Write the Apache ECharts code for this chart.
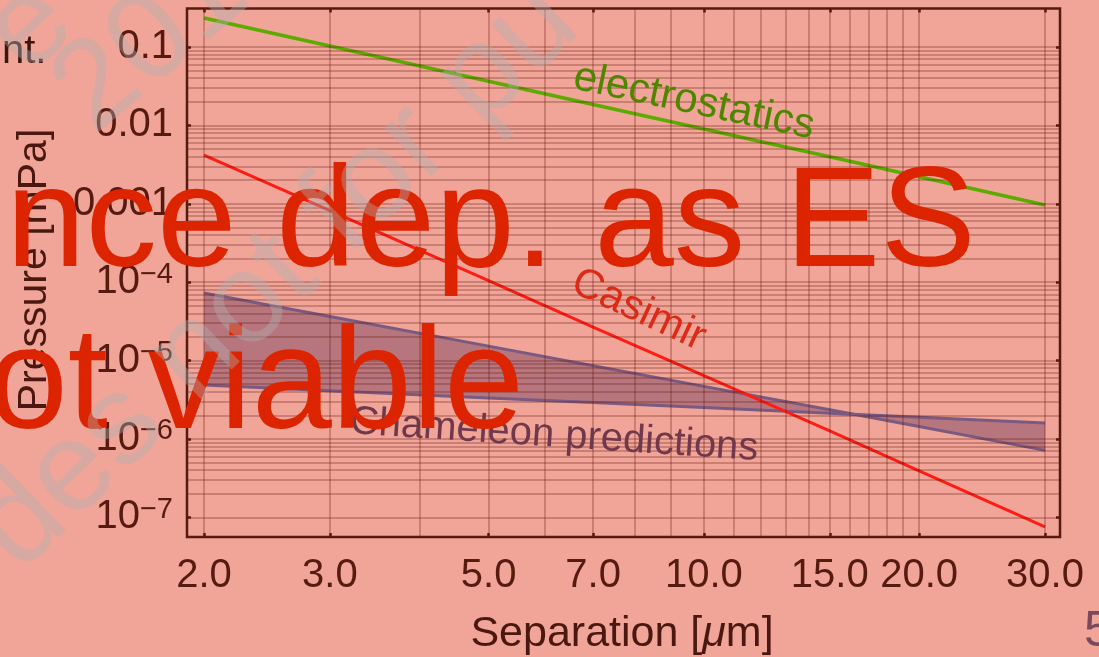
<!DOCTYPE html>
<html><head><meta charset="utf-8">
<script src="https://cdn.jsdelivr.net/npm/echarts@6/dist/echarts.min.js"></script>
<style>html,body{margin:0;padding:0;background:#f0a598;overflow:hidden}#c{width:1099px;height:657px}</style>
</head><body><div id="c"></div>
<script>
// ---- data ----
const separation = [2, 3, 5, 7, 10, 15, 20, 30];
const electrostatics = [0.234, 0.103, 0.0366, 0.0185, 0.0090, 0.00398, 0.00221, 0.000966];
const casimir = [0.00419, 0.000817, 1.047e-4, 2.67e-5, 6.41e-6, 1.265e-6, 3.93e-7, 7.55e-8];
const chameleonUpper = [7.28e-5, 3.64e-5, 1.53e-5, 8.59e-6, 4.69e-6, 2.36e-6, 1.44e-6, 7.16e-7];
const chameleonLower = [4.89e-6, 4.13e-6, 3.34e-6, 2.91e-6, 2.52e-6, 2.13e-6, 1.89e-6, 1.60e-6];

const xTickValues = [2, 3, 5, 7, 10, 15, 20, 30];
const xTickLabels = ['2.0', '3.0', '5.0', '7.0', '10.0', '15.0', '20.0', '30.0'];
const xGridValues = [2, 3, 4, 5, 6, 7, 8, 9, 10, 11, 12, 13, 14, 15, 16, 17, 18, 19, 20, 30];
const yTickValues = [1e-7, 1e-6, 1e-5, 1e-4, 1e-3, 1e-2, 1e-1];
const yTickBase = ['10', '10', '10', '10', '0.001', '0.01', '0.1'];
const yTickExp = ['\u22127', '\u22126', '\u22125', '\u22124', '', '', ''];
const yGridDecades = [1e-7, 1e-6, 1e-5, 1e-4, 1e-3, 1e-2];
const yGridMantissas = [2, 3, 4, 5, 6, 7, 8, 9];

// ---- styling ----
const FONT = '"Liberation Sans", Arial, sans-serif';
const DARK = '#561a10';
const GRID_C = 'rgba(105,25,15,0.36)';
const WM = 'rgba(175,175,178,0.4)';

const yGridValues = yTickValues.slice();
yGridDecades.forEach(d => yGridMantissas.forEach(m => yGridValues.push(+(m * d).toPrecision(3))));

const xy = (xs, ys) => xs.map((x, i) => [x, ys[i]]);
const near = (a, b) => Math.abs(Math.log10(a) - Math.log10(b)) < 1e-6;

const X_MIN = 1.8935, X_MAX = 31.48, Y_MIN = 5.62e-8, Y_MAX = 0.3097;

const chart = echarts.init(document.getElementById('c'), null, {renderer: 'canvas'});
chart.setOption({
  backgroundColor: '#f0a598',
  animation: false,
  textStyle: {fontFamily: FONT},
  grid: {left: 187, right: 39, top: 8.5, bottom: 120, show: true, borderColor: DARK, borderWidth: 2.5,
         backgroundColor: 'transparent', outerBoundsMode: 'none', containLabel: false},
  xAxis: [{
    type: 'log', logBase: 10, min: X_MIN, max: X_MAX,
    axisLine: {show: false}, splitLine: {show: false},
    axisTick: {show: true, inside: true, length: 4, customValues: xTickValues, lineStyle: {color: DARK, width: 2.5}},
    axisLabel: {
      customValues: xTickValues, margin: 19, fontSize: 40, color: DARK, fontFamily: FONT,
      formatter: v => { const i = xTickValues.findIndex(t => near(t, v)); return i < 0 ? '' : xTickLabels[i]; }
    }
  }, {
    type: 'log', logBase: 10, min: X_MIN, max: X_MAX, position: 'top',
    axisLine: {show: false}, splitLine: {show: false}, axisLabel: {show: false},
    axisTick: {show: true, inside: true, length: 4, customValues: xTickValues, lineStyle: {color: DARK, width: 2.5}}
  }],
  yAxis: [{
    type: 'log', logBase: 10, min: Y_MIN, max: Y_MAX,
    axisLine: {show: false}, splitLine: {show: false},
    axisTick: {show: true, inside: true, length: 4, customValues: yTickValues, lineStyle: {color: DARK, width: 2.5}},
    axisLabel: {
      showMinLabel: false, showMaxLabel: false, margin: 14, color: DARK, fontFamily: FONT,
      formatter: v => {
        const i = yTickValues.findIndex(t => near(t, v));
        if (i < 0) return '';
        return yTickExp[i] ? '{b|' + yTickBase[i] + '}{s|' + yTickExp[i] + '}' : '{b|' + yTickBase[i] + '}';
      },
      rich: {
        b: {fontSize: 40, lineHeight: 44, color: DARK, fontFamily: FONT},
        s: {fontSize: 29, lineHeight: 14, verticalAlign: 'top', color: DARK, fontFamily: FONT}
      }
    }
  }, {
    type: 'log', logBase: 10, min: Y_MIN, max: Y_MAX, position: 'right',
    axisLine: {show: false}, splitLine: {show: false}, axisLabel: {show: false},
    axisTick: {show: true, inside: true, length: 4, customValues: yTickValues, lineStyle: {color: DARK, width: 2.5}}
  }],
  series: [
    {
      name: 'grid', type: 'line', data: [], silent: true,
      markLine: {
        silent: true, precision: 12, symbol: ['none', 'none'], label: {show: false}, emphasis: {disabled: true},
        lineStyle: {color: GRID_C, width: 1.5, type: 'solid'},
        data: xGridValues.map(v => ({xAxis: v})).concat(yGridValues.map(v => ({yAxis: v})))
      }
    },
    {
      name: 'band', type: 'custom', data: [[separation[0], chameleonUpper[0]]], silent: true,
      encode: {x: 0, y: 1},
      renderItem: function (params, api) {
        const pts = [];
        for (let i = 0; i < separation.length; i++) pts.push(api.coord([separation[i], chameleonUpper[i]]));
        for (let i = separation.length - 1; i >= 0; i--) pts.push(api.coord([separation[i], chameleonLower[i]]));
        return {type: 'polygon', shape: {points: pts}, style: {fill: 'rgba(125,72,100,0.5)'}};
      }
    },
    {name: 'chamUpper', type: 'line', data: xy(separation, chameleonUpper), symbol: 'none', silent: true,
     lineStyle: {color: '#7a5a80', width: 3}},
    {name: 'chamLower', type: 'line', data: xy(separation, chameleonLower), symbol: 'none', silent: true,
     lineStyle: {color: '#7a5a80', width: 3}},
    {name: 'casimir', type: 'line', data: xy(separation, casimir), symbol: 'none', silent: true,
     lineStyle: {color: '#ff1c14', width: 3}},
    {name: 'electrostatics', type: 'line', data: xy(separation, electrostatics), symbol: 'none', silent: true,
     lineStyle: {color: '#5cab00', width: 3.5}}
  ],
  graphic: [
    {type: 'text', x: 574, y: 77, rotation: -11.8 * Math.PI / 180, z: 50,
     style: {text: 'electrostatics', font: '42px ' + FONT, fill: '#4f8600', textAlign: 'left', textVerticalAlign: 'middle'}},
    {type: 'text', x: 574, y: 280, rotation: -25 * Math.PI / 180, z: 50,
     style: {text: 'Casimir', font: '42px ' + FONT, fill: '#dc2a16', textAlign: 'left', textVerticalAlign: 'middle'}},
    {type: 'text', x: 350, y: 422, rotation: -3.8 * Math.PI / 180, z: 50,
     style: {text: 'Chameleon predictions', font: '40px ' + FONT, fill: '#70384a', textAlign: 'left', textVerticalAlign: 'middle'}},
    {type: 'text', x: 35, y: 270, rotation: Math.PI / 2, z: 50,
     style: {text: 'Pressure [mPa]', font: '41px ' + FONT, fill: '#4a1810', textAlign: 'center', textVerticalAlign: 'middle'}},
    {type: 'text', x: 622, y: 634, z: 50,
     style: {text: '{a|Separation [}{i|\u03bc}{a|m]}', textAlign: 'center', textVerticalAlign: 'middle',
             rich: {a: {fontSize: 43, fontFamily: FONT, fill: '#4a1810'}, i: {fontSize: 43, fontFamily: FONT, fontStyle: 'italic', fill: '#4a1810'}}}},
    {type: 'text', x: 2, y: 52, z: 50,
     style: {text: 'nt.', font: '40px ' + FONT, fill: '#3b1510', textAlign: 'left', textVerticalAlign: 'middle'}},
    {type: 'text', x: 1084, y: 632, z: 50,
     style: {text: '5', font: '50px ' + FONT, fill: '#7a4a5c', textAlign: 'left', textVerticalAlign: 'middle'}},
    // big overlay statement
    {type: 'text', x: 6, y: 227, z: 100,
     style: {text: 'nce dep. as ES', font: '143px ' + FONT, fill: '#dd2400', textAlign: 'left', textVerticalAlign: 'middle'}},
    {type: 'text', x: 524, y: 388, z: 100,
     style: {text: 'ot viable', font: '144px ' + FONT, fill: '#dd2400', textAlign: 'right', textVerticalAlign: 'middle'}},
    // watermark
    {type: 'text', x: 30, y: 28, rotation: 44 * Math.PI / 180, z: 120,
     style: {text: 'e', font: '125px ' + FONT, fill: WM, textAlign: 'center', textVerticalAlign: 'middle'}},
    {type: 'text', x: 72, y: 109, rotation: 40 * Math.PI / 180, z: 120,
     style: {text: '201', font: '125px ' + FONT, fill: WM, textAlign: 'left', textVerticalAlign: 'middle'}},
    {type: 'text', x: -4, y: 548, rotation: 44 * Math.PI / 180, z: 120,
     style: {text: 'des not for pu', font: '128px ' + FONT, fill: WM, textAlign: 'left', textVerticalAlign: 'middle'}}
  ]
});
</script></body></html>
